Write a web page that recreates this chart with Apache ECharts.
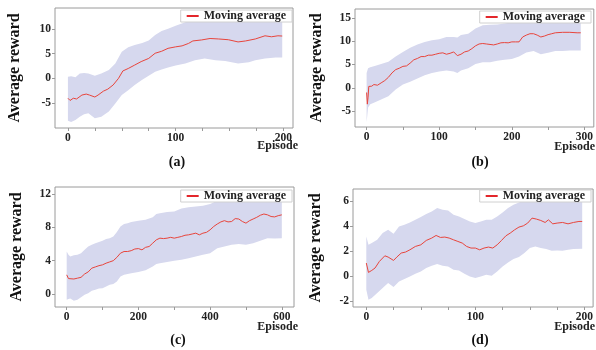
<!DOCTYPE html>
<html>
<head>
<meta charset="utf-8">
<script src="https://cdn.jsdelivr.net/npm/echarts@6/dist/echarts.min.js"></script>
<style>
  html, body { margin: 0; padding: 0; background: #fff; }
  #chart { width: 596px; height: 350px; }
</style>
</head>
<body>
<div id="chart"></div>
<script>
// ---- data ----
// (a)
const aEp = [0,2,5,8,13,17,20,25,28,33,37,42,47,51,56,62,68,75,81,87,93,100,106,112,116,124,132,140,149,158,165,174,183,189,195,199];
const aMean = [-4.05,-4.5,-4.05,-4.2,-3.4,-3.2,-3.4,-3.8,-3.4,-2.6,-2.2,-1.35,0,1.5,2.0,2.7,3.4,4.05,5.1,5.5,6.1,6.4,6.6,7.1,7.6,7.8,8.1,8.0,7.85,7.4,7.6,8.0,8.65,8.45,8.65,8.6];
const aBandEp = [0,3,7,11,15,19,25,31,38,44,50,56,62,69,75,81,87,93,100,109,118,127,137,146,158,168,174,183,193,199];
const aUpper = [0.3,0.4,0.2,1.0,1.1,1.0,0.5,1.0,1.7,3.0,5.4,6.3,6.8,7.2,7.7,8.8,9.6,10.1,10.7,11.4,12.0,12.4,12.5,12.3,12.0,12.2,12.5,12.9,13.0,13.0];
const aLower = [-8.65,-8.9,-8.45,-7.8,-7.3,-7.1,-8.1,-7.8,-6.75,-5.1,-3.4,-2.4,-1.35,-0.3,0.54,1.35,1.8,2.2,2.6,3.0,3.7,4.05,3.7,3.5,3.0,3.25,3.7,4.05,4.25,4.25];

// (b)
const bEp = [0,1,2,3,5,7,10,15,20,25,30,35,40,45,50,55,60,65,70,75,80,85,90,95,100,105,110,115,120,125,130,135,140,145,150,155,160,165,170,175,180,185,190,195,200,205,210,215,220,225,230,235,240,245,250,255,260,270,280,290,295];
const bMean = [-1,-3.5,-2,0.3,0,0.35,0.7,0.56,1.06,1.55,2.25,3.2,3.9,4.2,4.6,4.7,5.3,6.0,6.3,6.7,6.7,7.0,7.0,7.2,7.4,7.5,7.2,7.4,7.7,6.9,7.2,7.7,7.9,8.4,9.0,9.4,9.5,9.4,9.3,9.2,9.4,9.65,9.7,9.65,9.85,9.85,9.85,10.9,11.3,11.6,11.6,11.3,10.9,11.1,11.4,11.6,11.8,11.9,11.9,11.8,11.8];
const bBandEp = [0,2,5,10,20,30,40,50,60,70,80,90,100,110,120,125,130,140,150,160,170,180,190,200,210,220,230,240,250,260,270,280,295];
const bUpper = [3.2,4.2,4.4,4.6,5.1,5.6,6.7,7.7,8.6,9.3,9.85,10.2,10.4,10.9,10.9,10.8,11.3,11.6,12.7,13.4,13.5,13.6,13.8,14.0,14.2,15.0,15.4,15.0,15.2,15.5,15.6,15.6,15.6];
const bLower = [-7.4,-4.2,-3.5,-3.2,-2.5,-1.8,-0.35,0.7,1.3,2.0,2.7,3.2,3.5,3.7,3.5,3.2,3.7,4.2,5.1,5.5,5.5,5.8,6.0,6.2,6.7,7.6,7.9,7.2,7.5,7.9,7.9,8.0,8.0];

// (c)
const cEp = [0,5,10,20,30,40,50,60,70,80,90,100,110,120,130,140,150,160,170,180,190,200,210,220,230,240,250,260,270,280,290,300,310,320,330,340,350,360,370,380,390,400,410,420,430,440,450,460,470,480,490,500,510,520,530,540,550,560,570,580,590,600];
const cMean = [2.3,1.85,2.0,1.8,1.9,2.0,2.4,2.65,3.1,3.25,3.4,3.5,3.7,3.85,4.0,4.4,4.9,5.1,5.1,5.2,5.4,5.45,5.3,5.6,5.7,6.1,6.5,6.7,6.65,6.7,6.8,6.7,6.8,6.9,7.05,7.1,7.2,7.3,7.1,7.3,7.4,7.7,8.1,8.4,8.65,8.8,8.65,8.7,9.05,9.0,8.7,8.5,8.8,9.0,9.2,9.45,9.6,9.5,9.3,9.25,9.4,9.5];
const cBandEp = [0,5,10,20,30,40,50,60,70,80,90,100,110,120,130,140,150,160,170,180,200,220,240,250,260,280,300,320,340,360,380,400,420,440,460,480,500,520,540,560,580,600];
const cUpper = [5.1,4.7,4.5,4.65,4.7,4.9,5.3,5.7,5.9,6.1,6.25,6.4,6.6,6.7,6.9,7.45,8.1,8.4,8.5,8.65,8.8,8.9,9.2,9.6,9.7,9.85,9.9,10.25,10.4,10.5,10.6,10.8,11.2,11.5,11.6,11.8,11.6,11.8,12.1,12.3,12.2,12.3];
const cLower = [-0.7,-0.6,-0.55,-0.8,-0.7,-0.4,-0.1,0.1,0.4,0.5,0.65,0.7,0.9,1.1,1.2,1.5,2.1,2.3,2.4,2.5,2.65,2.85,3.3,3.6,3.7,3.85,4.0,4.1,4.3,4.5,4.7,4.9,5.5,5.7,5.9,6.0,5.9,6.1,6.4,6.7,6.65,6.7];

// (d)
const dEp = [0,2,5,8,12,17,20,25,28,32,36,40,45,50,55,60,64,68,72,76,80,84,88,92,96,100,104,108,112,116,120,124,128,132,136,140,144,148,152,156,160,164,167,171,175,180,185,190,195,198];
const dMean = [1.07,0.32,0.48,0.67,1.2,1.65,1.55,1.28,1.55,1.87,1.95,2.13,2.4,2.53,2.88,3.07,3.28,3.12,3.15,3.07,2.93,2.8,2.67,2.4,2.27,2.27,2.13,2.27,2.35,2.27,2.53,2.88,3.25,3.47,3.73,3.95,4.05,4.27,4.67,4.59,4.48,4.32,4.53,4.21,4.27,4.32,4.21,4.32,4.4,4.4];
const dBandEp = [0,2,5,10,15,20,25,30,35,40,45,50,55,60,65,70,75,80,85,90,95,100,105,110,115,120,125,130,135,140,145,150,155,160,165,170,175,180,185,190,198];
const dUpper = [3.2,2.53,2.67,2.93,3.47,3.73,3.41,4.0,4.13,4.32,4.53,4.75,5.0,5.2,5.47,5.33,5.28,4.93,4.8,4.59,4.4,4.27,4.4,4.53,4.53,4.8,5.12,5.47,5.73,5.92,6.1,6.4,6.7,6.6,6.5,6.4,6.5,6.5,6.4,6.5,6.6];
const dLower = [-1.07,-1.87,-1.73,-1.33,-0.93,-0.53,-0.85,-0.4,-0.21,0,0.21,0.4,0.67,0.85,1.0,0.85,0.8,0.53,0.48,0.21,0,-0.13,0,0.13,0.05,0.4,0.8,1.12,1.39,1.55,1.87,2.27,2.4,2.27,2.19,2.05,2.08,2.05,2.13,2.19,2.21];

// tick labels
const aXLabels = [0, 100, 200], aXTicks = [0,25,50,75,100,125,150,175,200], aYLabels = [-5, 0, 5, 10];
const bXLabels = [0, 100, 200, 300], bXTicks = [0,50,100,150,200,250,300], bYLabels = [-5, 0, 5, 10, 15];
const cXLabels = [0, 200, 400, 600], cXTicks = [0,100,200,300,400,500,600], cYLabels = [0, 4, 8, 12];
const dXLabels = [0, 100, 200], dXTicks = [0,25,50,75,100,125,150,175,200], dYLabels = [-2, 0, 2, 4, 6];

const FONT = "'Liberation Serif', 'Times New Roman', serif";
const LINE_COLOR = "#e8453c";
const BAND_COLOR = "#d6d8ee";
const FRAME = "#9a9a9a";

const zip = (xs, ys) => xs.map((x, i) => [x, ys[i]]);

const panels = [
  { ep: aEp, mean: aMean, bEp: aBandEp, up: aUpper, lo: aLower, xl: aXLabels, xt: aXTicks, yl: aYLabels,
    grid: { left: 55, top: 8, width: 238, height: 120 }, x: [-12, 209], y: [-10.1, 14.3], gap: 32,
    legend: { right: 304, top: 10 }, tag: "(a)", tagPos: [177, 162], epPos: [298, 146] },
  { ep: bEp, mean: bMean, bEp: bBandEp, up: bUpper, lo: bLower, xl: bXLabels, xt: bXTicks, yl: bYLabels,
    grid: { left: 355, top: 9, width: 239, height: 118 }, x: [-16, 313], y: [-8.4, 16.9], gap: 30,
    legend: { right: 5, top: 11 }, tag: "(b)", tagPos: [480, 162], epPos: [595, 147] },
  { ep: cEp, mean: cMean, bEp: cBandEp, up: cUpper, lo: cLower, xl: cXLabels, xt: cXTicks, yl: cYLabels,
    grid: { left: 55, top: 187, width: 239, height: 120 }, x: [-32.6, 634], y: [-1.56, 12.84], gap: 30,
    legend: { right: 304, top: 190 }, tag: "(c)", tagPos: [178, 340], epPos: [298, 327] },
  { ep: dEp, mean: dMean, bEp: dBandEp, up: dUpper, lo: dLower, xl: dXLabels, xt: dXTicks, yl: dYLabels,
    grid: { left: 353, top: 189, width: 241, height: 118 }, x: [-12.2, 208], y: [-2.45, 7.0], gap: 29,
    legend: { right: 5, top: 190 }, tag: "(d)", tagPos: [480, 340], epPos: [595, 327] },
];

const labelStyle = { color: "#222", fontFamily: FONT, fontWeight: "bold", fontSize: 11.5 };

const option = { animation: false, grid: [], xAxis: [], yAxis: [], series: [], legend: [], graphic: [] };

panels.forEach((p, i) => {
  option.grid.push(Object.assign({ show: true, borderColor: FRAME, borderWidth: 1, backgroundColor: "transparent" }, p.grid));
  option.xAxis.push({
    gridIndex: i, type: "value", min: p.x[0], max: p.x[1],
    axisLine: { show: false, onZero: false }, splitLine: { show: false },
    axisTick: { show: true, customValues: p.xt, length: 3, lineStyle: { color: FRAME } },
    axisLabel: Object.assign({ customValues: p.xl, margin: 4 }, labelStyle),
  });
  option.yAxis.push({
    gridIndex: i, type: "value", min: p.y[0], max: p.y[1],
    axisLine: { show: false, onZero: false }, splitLine: { show: false },
    axisTick: { show: true, customValues: p.yl, length: 3, lineStyle: { color: FRAME } },
    axisLabel: Object.assign({ customValues: p.yl, margin: 4 }, labelStyle),
    name: "Average reward", nameLocation: "middle", nameGap: p.gap,
    nameTextStyle: { color: "#111", fontFamily: FONT, fontWeight: "bold", fontSize: 16 },
  });
  // std band: one polygon, upper edge forward then lower edge back
  option.series.push({
    type: "custom", xAxisIndex: i, yAxisIndex: i, silent: true, clip: true, z: 1,
    data: p.bEp.map((x, k) => [x, p.lo[k], p.up[k]]),
    encode: { x: 0, y: [1, 2] },
    renderItem: (params, api) => {
      if (params.dataIndex !== 0) return;
      const pts = [];
      p.bEp.forEach((x, k) => pts.push(api.coord([x, p.up[k]])));
      for (let k = p.bEp.length - 1; k >= 0; k--) pts.push(api.coord([p.bEp[k], p.lo[k]]));
      return { type: "polygon", shape: { points: pts }, style: { fill: BAND_COLOR } };
    },
  });
  option.series.push({
    name: "Moving average", type: "line", xAxisIndex: i, yAxisIndex: i,
    data: zip(p.ep, p.mean), symbol: "none", z: 3,
    lineStyle: { color: LINE_COLOR, width: 1 }, itemStyle: { color: LINE_COLOR },
  });
  option.legend.push(Object.assign({
    data: ["Moving average"], orient: "horizontal", icon: "rect", itemWidth: 12, itemHeight: 2,
    backgroundColor: "#fff", borderColor: "#d0d0d0", borderWidth: 1, borderRadius: 0, padding: [0, 6],
    textStyle: { color: "#222", fontFamily: FONT, fontWeight: "bold", fontSize: 12 },
    itemStyle: { color: "#e3262b" }, selectedMode: false,
  }, p.legend));
  option.graphic.push({
    type: "text", x: p.tagPos[0], y: p.tagPos[1],
    style: { text: p.tag, fill: "#111", font: "bold 14px " + FONT, textAlign: "center", textVerticalAlign: "middle" },
  });
  option.graphic.push({
    type: "text", x: p.epPos[0], y: p.epPos[1],
    style: { text: "Episode", fill: "#222", font: "bold 12px " + FONT, textAlign: "right", textVerticalAlign: "middle" },
  });
});

const chart = echarts.init(document.getElementById("chart"));
chart.setOption(option);
</script>
</body>
</html>
